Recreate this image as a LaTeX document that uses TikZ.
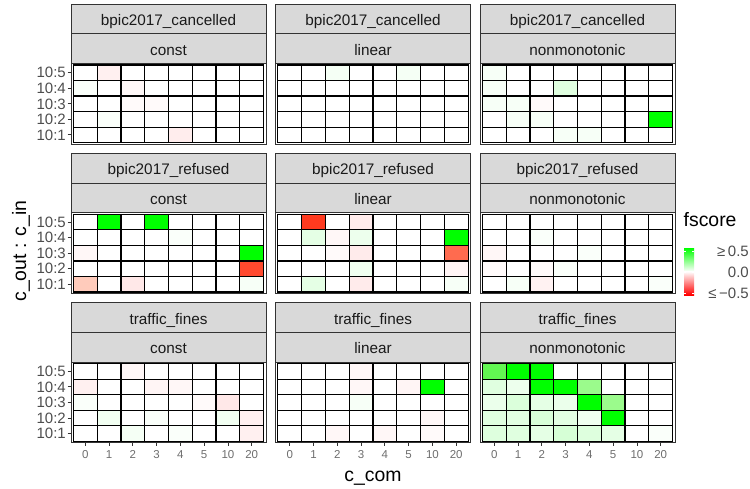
\documentclass[tikz,border=0pt]{standalone}
\usepackage{fontspec}
\setmainfont{Liberation Sans}
\usetikzlibrary{positioning}

\definecolor{grey10}{HTML}{1A1A1A}
\definecolor{grey20}{HTML}{333333}
\definecolor{grey30}{HTML}{4D4D4D}
\definecolor{grey50}{HTML}{6E6E6E}
\definecolor{grey85}{HTML}{D9D9D9}
\definecolor{midgreen}{HTML}{62F752}
\definecolor{paleg}{HTML}{9BFB8C}
\definecolor{hired}{HTML}{FF3A1F}
\definecolor{red75}{HTML}{FF4A2E}
\definecolor{red60}{HTML}{FF6B4F}
\definecolor{pink}{HTML}{FFCBBB}

% fill the tiles of one panel: column, row, list of i/k/colour
\newcommand{\tiles}[3]{%
  \foreach \i/\k/\col in {#3}
    \fill[\col] ({71+#1*204.5+2.38+\i*23.78},{63.5+#2*149.3+1.55+\k*15.52}) rectangle ++(23.78,15.52);}

\begin{document}
\begin{tikzpicture}[x=1pt,y=-1pt,
  strip/.style={draw=grey20,fill=grey85,line width=0.7pt,minimum width=195pt,minimum height=29.75pt,
    inner sep=0pt,outer sep=0pt,text=grey10,font=\fontsize{15.3}{18}\selectfont,
    text height=13.5pt,text depth=-2.5pt},
  frame/.style={draw=grey20,line width=0.9pt},
  tile/.style={black,line width=1.2pt,line cap=rect},
  tick/.style={grey20,line width=0.9pt},
  ylab/.style={anchor=east,text=grey30,inner sep=0pt,font=\fontsize{15}{18}\selectfont},
  xlab/.style={text=grey50,inner sep=0pt,font=\fontsize{11.5}{14}\selectfont},
  title/.style={inner sep=0pt,font=\fontsize{19.4}{23}\selectfont},
  leglab/.style={anchor=east,text=grey30,inner sep=0pt,font=\fontsize{15}{18}\selectfont}]

\useasboundingbox (0,0) rectangle (750,488);

% tiles
\tiles{0}{0}{1/0/red!6, 2/1/red!3, 2/2/red!2, 3/2/red!2, 4/4/red!7, 0/1/green!2, 1/3/green!2}
\tiles{1}{0}{2/0/green!4, 5/0/green!4}
\tiles{2}{0}{3/1/green!12, 7/3/green, 0/0/green!3, 0/1/green!3, 0/2/green!3, 1/2/green!3, 1/3/green!3,
  2/2/red!2, 2/3/green!3, 3/4/green!3, 4/4/green!3}
\tiles{0}{1}{1/0/green, 3/0/green, 7/2/green, 7/3/red75, 0/4/pink, 2/4/red!9, 0/2/red!3, 7/4/green!3,
  4/1/green!2}
\tiles{1}{1}{1/0/hired, 3/0/red!8, 1/1/green!10, 2/1/red!3, 3/1/green!7, 7/1/green, 2/2/red!2,
  3/2/red!8, 7/2/red60, 3/3/green!6, 7/3/red!4, 1/4/green!10, 3/4/red!8, 7/4/green!3}
\tiles{2}{1}{0/2/red!3, 0/3/red!2, 2/4/red!5, 2/3/red!2, 3/3/green!2, 1/4/green!3, 7/4/green!2,
  2/1/green!2, 4/2/green!2}
\tiles{0}{2}{2/0/red!3, 0/1/red!6, 3/1/red!4, 4/1/red!3, 6/2/red!9, 5/2/red!2, 0/2/green!2,
  1/3/green!5, 6/3/green!5, 7/3/red!6, 2/4/green!4, 7/4/red!6, 4/4/green!2, 3/3/green!2}
\tiles{1}{2}{6/1/green, 3/0/red!3, 3/1/red!3, 5/1/red!4, 3/2/green!3, 6/3/red!3, 2/4/red!3,
  4/4/red!3, 6/4/red!2}
\tiles{2}{2}{0/0/midgreen, 1/0/green, 2/0/green,
  0/1/green!12, 1/1/green!7, 2/1/green, 3/1/green, 4/1/paleg,
  0/2/green!8, 1/2/green!14, 2/2/green!10, 3/2/green!8, 4/2/green, 5/2/paleg,
  0/3/green!12, 1/3/green!11, 2/3/green!15, 3/3/green!11, 4/3/green!6, 5/3/green,
  0/4/green!13, 1/4/green!12, 2/4/green!10, 3/4/green!16, 4/4/green!13, 5/4/green!10, 7/4/green!2}

% strips, grid lines and frames
\foreach \c/\r/\dset/\mdl in {0/0/bpic2017\_cancelled/const, 1/0/bpic2017\_cancelled/linear,
    2/0/bpic2017\_cancelled/nonmonotonic, 0/1/bpic2017\_refused/const, 1/1/bpic2017\_refused/linear,
    2/1/bpic2017\_refused/nonmonotonic, 0/2/traffic\_fines/const, 1/2/traffic\_fines/linear,
    2/2/traffic\_fines/nonmonotonic} {
  \pgfmathsetmacro{\px}{71+\c*204.5}
  \pgfmathsetmacro{\py}{4+\r*149.3}
  \node[strip] (d\c\r) at ({\px+97.5},{\py+14.875}) {\dset};
  \node[strip,below=0pt of d\c\r] (m\c\r) {\mdl};
  \foreach \i in {0,...,8}
    \draw[tile] ({\px+2.38+\i*23.78},{\py+61.05}) -- ++(0,77.6);
  \foreach \k in {0,...,5}
    \draw[tile] ({\px+2.38},{\py+61.05+\k*15.52}) -- ++(190.24,0);
  \draw[frame] (\px,{\py+59.5}) rectangle ++(195,80.7);
}

% y axis
\foreach \r in {0,1,2}
  \foreach \k/\lab in {0/10:5,1/10:4,2/10:3,3/10:2,4/10:1} {
    \pgfmathsetmacro{\yy}{4+\r*149.3+61.05+(\k+0.5)*15.52}
    \draw[tick] (67.5,\yy) -- (71,\yy);
    \node[ylab] (y\r\k) at (66,\yy) {\lab};
  }

% x axis
\foreach \c in {0,1,2}
  \foreach \i/\lab in {0/0,1/1,2/2,3/3,4/4,5/5,6/10,7/20} {
    \pgfmathsetmacro{\xx}{71+\c*204.5+2.38+(\i+0.5)*23.78}
    \draw[tick] (\xx,442.8) -- (\xx,446.3);
    \node[xlab] (x\c\i) at (\xx,454.5) {\lab};
  }

\node[title,anchor=base] (xtitle) at (373,481.5) {c\_com};
\node[title,anchor=base,rotate=90] (ytitle) at (26,251) {c\_out : c\_in};

% legend
\node[title,anchor=base west] (ltitle) at (683.5,226) {fscore};
\shade[top color=green,bottom color=white] (684,248) rectangle (694,271.5);
\shade[top color=white,bottom color=red] (684,271.5) rectangle (694,295);
\foreach \yy in {251.5,272.5,293.5}
  \draw[white,line width=0.6pt] (684,\yy) -- ++(2,0) (694,\yy) -- ++(-2,0);
\node[leglab] (l1) at (749,251.5) {≥\,0.5};
\node[leglab] (l2) at (749,272.5) {0.0};
\node[leglab] (l3) at (749,293.5) {≤\,−0.5};
\end{tikzpicture}
\end{document}
